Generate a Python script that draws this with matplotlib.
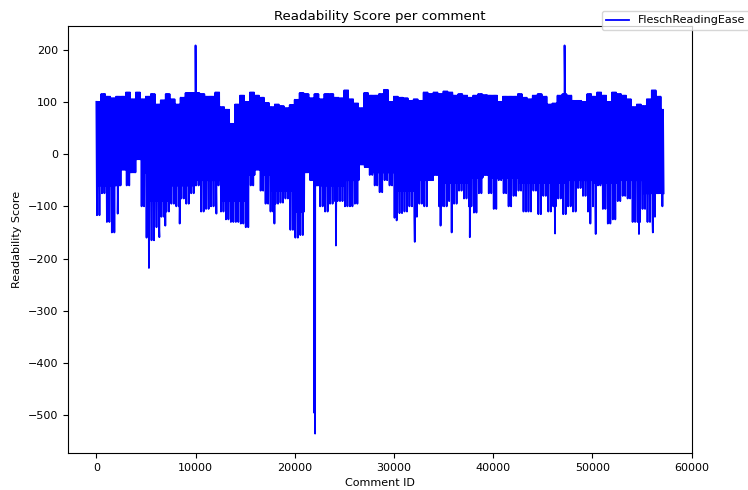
import numpy as np
import matplotlib.pyplot as plt

# Flesch reading ease per comment, summarised per block of 500 comment ids:
# highest and lowest score seen in each block
bin_width = 500
last_id = 57200

top = [
    100, 115, 110, 107, 110, 110, 118, 105, 118, 105,
    110, 115, 95, 103, 115, 105, 95, 108, 117, 117,
    117, 115, 110, 110, 118, 90, 85, 58, 95, 112,
    100, 118, 112, 108, 98, 90, 95, 92, 88, 94,
    104, 117, 115, 107, 115, 105, 115, 115, 108, 107,
    122, 105, 97, 88, 117, 112, 112, 115, 123, 100,
    110, 108, 107, 102, 105, 102, 118, 115, 118, 115,
    120, 118, 112, 115, 112, 108, 112, 115, 113, 112,
    112, 100, 110, 110, 110, 115, 108, 105, 112, 115,
    110, 95, 97, 112, 115, 112, 102, 102, 100, 115,
    110, 118, 112, 100, 118, 115, 112, 105, 90, 95,
    92, 105, 122, 110, 85,
]

bottom = [
    -117, -75, -130, -150, -60, -30, -60, -35, -10, -100,
    -160, -165, -140, -120, -110, -95, -100, -85, -95, -75,
    -60, -110, -105, -100, -60, -110, -125, -130, -130, -133,
    -140, -60, -30, -70, -95, -110, -95, -93, -85, -145,
    -160, -155, -35, -50, -60, -100, -110, -95, -90, -90,
    -100, -100, -95, -20, -25, -40, -60, -73, -50, -60,
    -122, -113, -110, -100, -120, -95, -100, -50, -40, -100,
    -100, -90, -95, -70, -85, -100, -112, -75, -40, -75,
    -105, -50, -75, -100, -80, -70, -110, -110, -70, -115,
    -80, -110, -100, -85, -115, -100, -110, -65, -80, -110,
    -100, -60, -105, -133, -125, -90, -80, -85, -130, -130,
    -105, -130, -120, -75, -100,
]

# typical low score per 2500 ids (where most comments bottom out)
typical_low = [
    -60, -35, -90, -60, -50, -90, -40, -70, -110, -60, -50, -35,
    -70, -50, -55, -45, -45, -55, -55, -50, -55, -50, -75,
]

# single comments far outside their block
spike_ids = [2150, 5300, 6350, 6950, 8400, 10000, 12100, 17950, 21950, 22050,
             24150, 30270, 32100, 34700, 35820, 37650, 46240, 47200, 49800,
             50340, 54700, 56100]
spike_vals = [-114, -218, -159, -137, -133, 208, -114, -133, -495, -535,
              -175, -127, -168, -137, -150, -159, -152, 208, -133,
              -153, -153, -150]

ids, scores = [], []
step = bin_width / 8
for i, (hi, lo) in enumerate(zip(top, bottom)):
    mid = max(typical_low[i // 5], lo)
    for k, v in enumerate((hi, lo, hi, mid, hi, lo, hi, mid)):
        cid = i * bin_width + k * step
        if cid <= last_id:
            ids.append(cid)
            scores.append(v)
ids += spike_ids
scores += spike_vals

order = np.argsort(ids, kind="stable")
comment_id = np.array(ids)[order]
score = np.array(scores)[order]

fig = plt.figure(figsize=(7.48, 4.9), dpi=100)
ax = fig.add_axes([68 / 748, 1 - 453 / 490, (692 - 68) / 748, (453 - 26) / 490])
ax.plot(comment_id, score, color="blue", lw=1.3, label="FleschReadingEase")
ax.set_title("Readability Score per comment", fontsize=9.6, pad=4)
ax.set_xlabel("Comment ID", fontsize=8)
ax.set_ylabel("Readability Score", fontsize=8)
ax.tick_params(labelsize=8)
fig.legend(loc="upper left", bbox_to_anchor=(602 / 748, 1 - 11 / 490),
           borderaxespad=0, fontsize=8)

fig.savefig("out.png", dpi=100)
